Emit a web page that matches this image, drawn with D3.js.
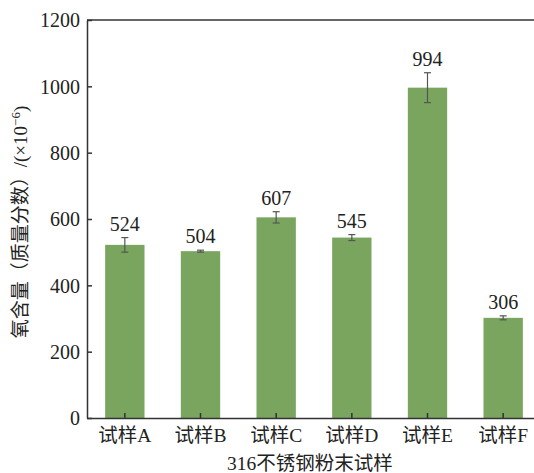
<!DOCTYPE html>
<html>
<head>
<meta charset="utf-8">
<script src="https://cdn.jsdelivr.net/npm/d3@7"></script>
<style>
  body { margin: 0; background: #fff; }
  text { font-family: "Liberation Serif", "Noto Sans CJK SC", serif; fill: #222; }
</style>
</head>
<body>
<div id="chart"></div>
<script>
// data
const samples = ['试样A', '试样B', '试样C', '试样D', '试样E', '试样F'];
const oxygen = [522, 503, 605, 544, 996, 302];
const errors = [22, 3, 17, 9, 45, 6];
const labels = ['524', '504', '607', '545', '994', '306'];
const yTicks = [0, 200, 400, 600, 800, 1000, 1200];

const width = 534;
const height = 473;
const mLeft = 87, mRight = 541, mTop = 20, mBottom = 418;

const svg = d3.select('#chart').append('svg')
  .attr('width', width)
  .attr('height', height);

const x = d3.scaleBand().domain(samples).range([mLeft, mRight]).paddingInner(0.48).paddingOuter(0.24);
const y = d3.scaleLinear().domain([0, 1200]).range([mBottom, mTop]);

// bars
svg.selectAll('.bar')
  .data(samples)
  .enter().append('rect')
  .attr('class', 'bar')
  .attr('x', d => x(d))
  .attr('width', x.bandwidth())
  .attr('y', (d, i) => y(oxygen[i]))
  .attr('height', (d, i) => y(0) - y(oxygen[i]))
  .style('fill', '#79a55e');

// error bars
const err = svg.selectAll('.err')
  .data(samples)
  .enter().append('g')
  .attr('class', 'err')
  .attr('transform', d => `translate(${x(d) + x.bandwidth() / 2},0)`)
  .style('stroke', '#555')
  .style('stroke-width', 1.2);

err.append('line')
  .attr('y1', (d, i) => y(oxygen[i] + errors[i]))
  .attr('y2', (d, i) => y(oxygen[i] - errors[i]));
err.append('line')
  .attr('x1', -3.5).attr('x2', 3.5)
  .attr('y1', (d, i) => y(oxygen[i] + errors[i]))
  .attr('y2', (d, i) => y(oxygen[i] + errors[i]));
err.append('line')
  .attr('x1', -3.5).attr('x2', 3.5)
  .attr('y1', (d, i) => y(oxygen[i] - errors[i]))
  .attr('y2', (d, i) => y(oxygen[i] - errors[i]));

// value labels
svg.selectAll('.val')
  .data(samples)
  .enter().append('text')
  .attr('class', 'val')
  .attr('x', d => x(d) + x.bandwidth() / 2)
  .attr('y', (d, i) => y(oxygen[i] + errors[i]) - 7)
  .style('text-anchor', 'middle')
  .style('font-size', '20px')
  .text((d, i) => labels[i]);

// axes
const yAxis = svg.append('g')
  .attr('transform', `translate(${mLeft},0)`)
  .call(d3.axisLeft(y).tickValues(yTicks).tickFormat(d3.format('d'))
    .tickSizeInner(-5).tickSizeOuter(0).tickPadding(7));
yAxis.selectAll('text').style('font-size', '20px').attr('dy', '0.34em');

const xAxis = svg.append('g')
  .attr('transform', `translate(0,${mBottom})`)
  .call(d3.axisBottom(x).tickSizeInner(-5).tickSizeOuter(0).tickPadding(10));
xAxis.selectAll('text').style('font-size', '19.5px').attr('dy', '0.71em');

svg.selectAll('.domain, .tick line').style('stroke', '#333').style('stroke-width', 1.5);

// top frame line
svg.append('line')
  .attr('x1', mLeft).attr('x2', width)
  .attr('y1', mTop).attr('y2', mTop)
  .style('stroke', '#333').style('stroke-width', 1.5);

// axis titles
svg.append('text')
  .attr('x', (mLeft + mRight) / 2 - 4)
  .attr('y', 470)
  .style('text-anchor', 'middle')
  .style('font-size', '19.5px')
  .text('316不锈钢粉末试样');

svg.append('text')
  .attr('transform', `translate(27,${222}) rotate(-90)`)
  .style('text-anchor', 'middle')
  .style('font-size', '19px')
  .html('氧含量（质量分数）/(×10<tspan dy="-7" font-size="13">−6</tspan><tspan dy="7">)</tspan>');
</script>
</body>
</html>
